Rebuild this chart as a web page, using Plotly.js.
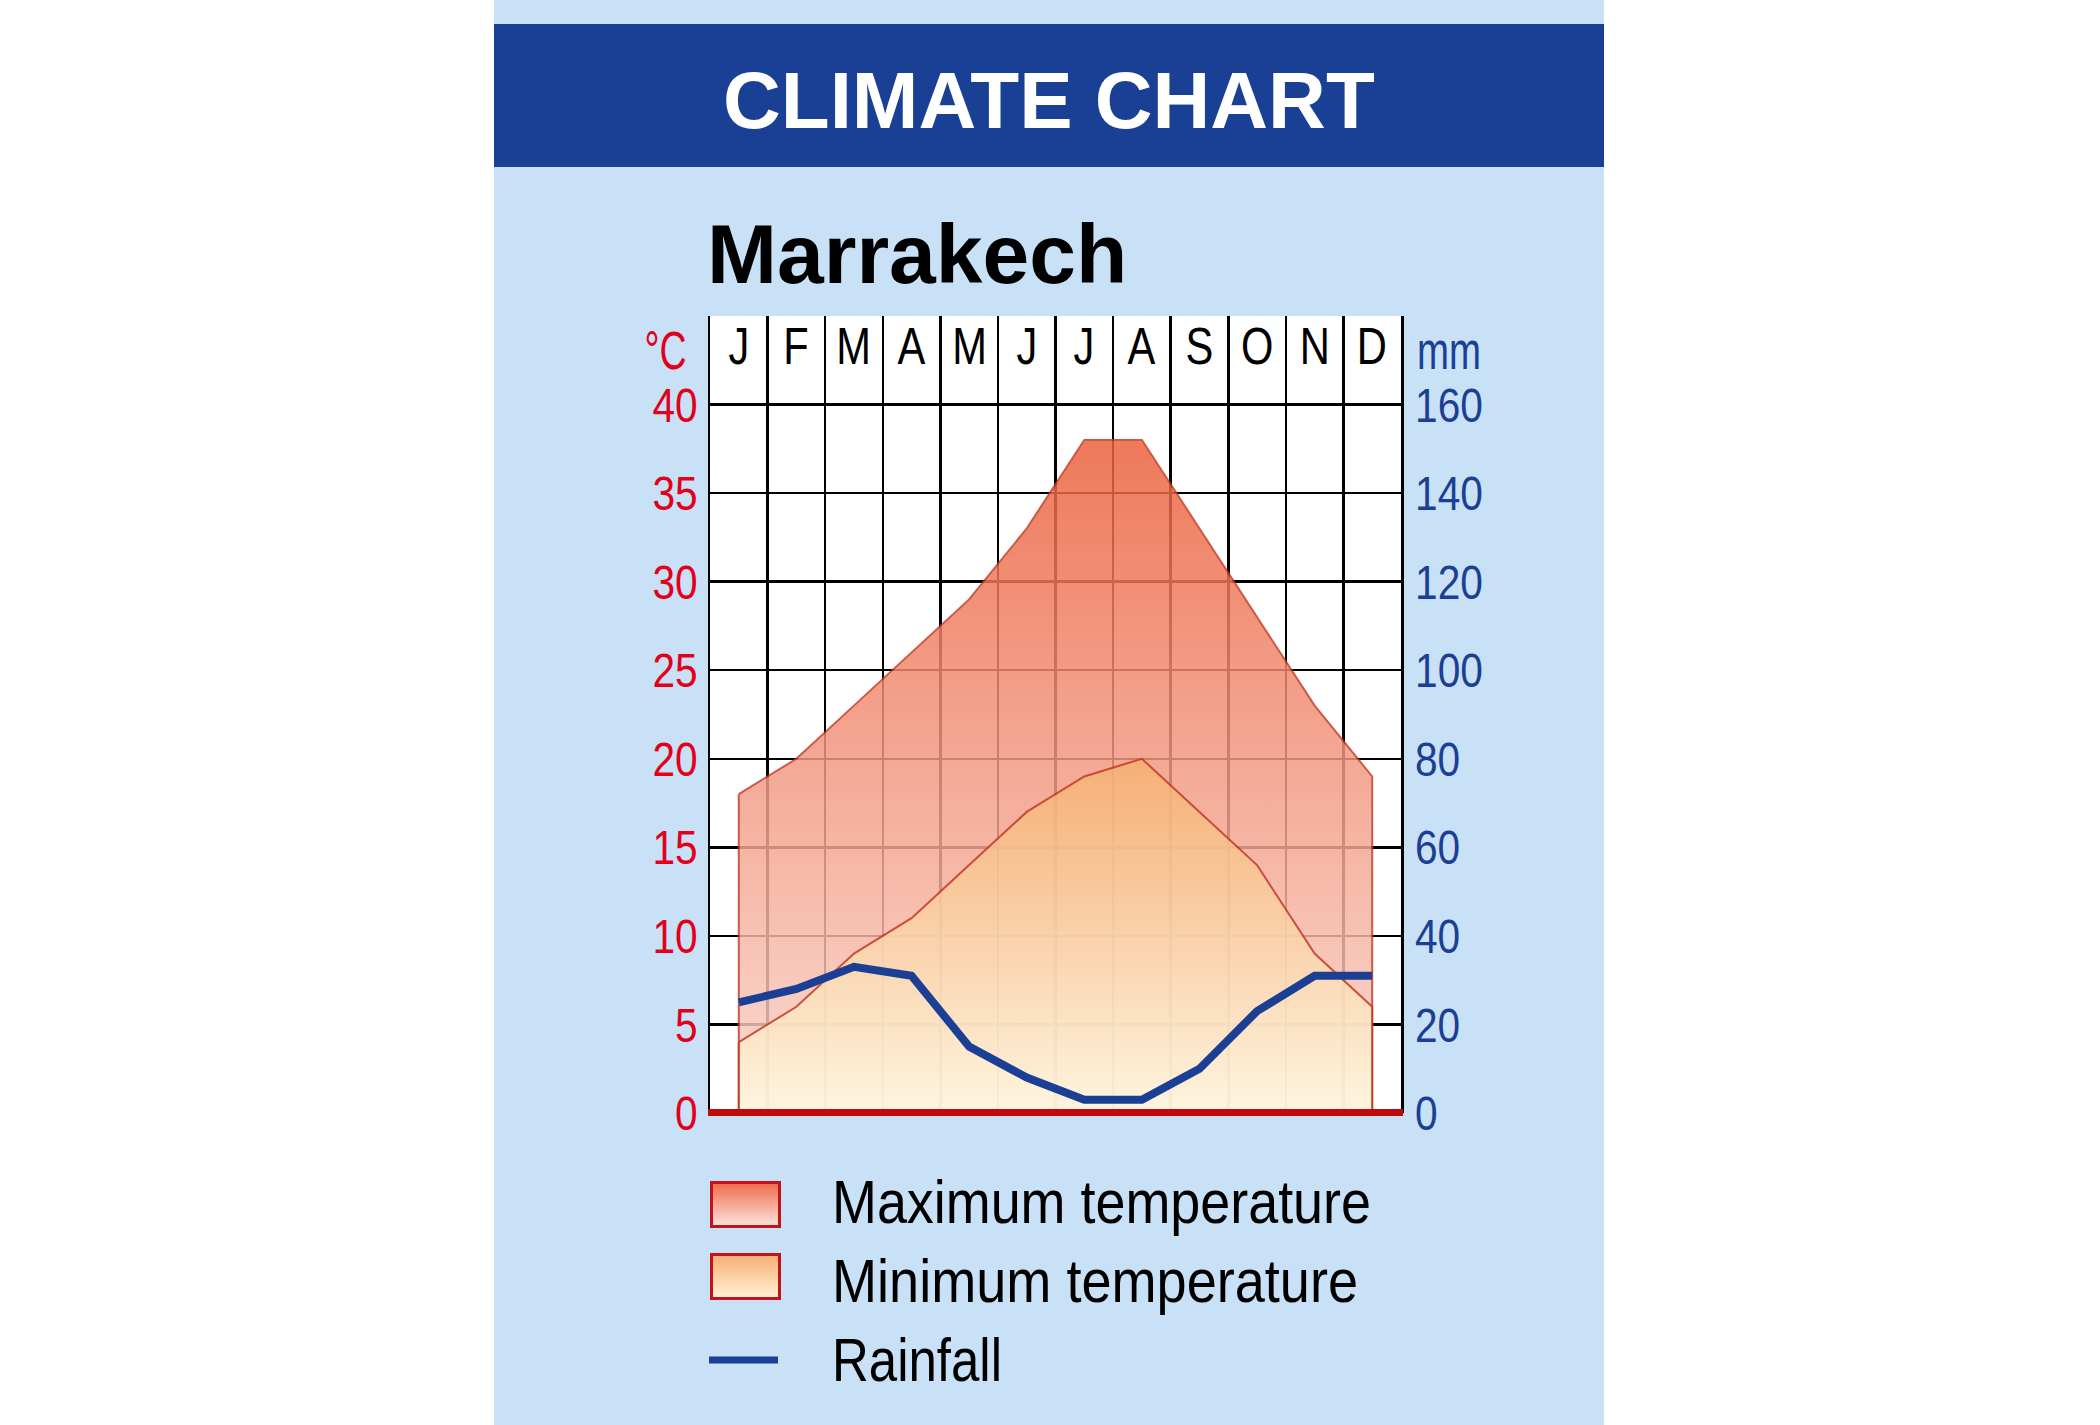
<!DOCTYPE html>
<html><head><meta charset="utf-8">
<script src="https://cdn.plot.ly/plotly-3.0.1.min.js"></script>
<style>html,body{margin:0;padding:0;background:#fff}#chart{width:2100px;height:1425px}</style>
</head><body><div id="chart"></div>
<script>
// ---- data ----
const months = ['Jan','Feb','Mar','Apr','May','Jun','Jul','Aug','Sep','Oct','Nov','Dec'];
const monthLetters = ['J','F','M','A','M','J','J','A','S','O','N','D'];
const tempMax = [18,20,23,26,29,33,38,38,33,28,23,19];
const tempMin = [4,6,9,11,14,17,19,20,17,14,9,6];
const rainfall = [25,28,33,31,15,8,3,3,10,23,31,31];
const tempTicks = [0,5,10,15,20,25,30,35,40];
const rainTicks = [0,20,40,60,80,100,120,140,160];
const legendLabels = ['Maximum temperature','Minimum temperature','Rainfall'];

// ---- layout geometry (pixels) ----
const W = 2100, H = 1425;
const L = 710, R = 1401, T = 316, B = 1113;
const PW = R - L, PH = B - T;
const px = x => (x - L) / PW;
const py = y => (B - y) / PH;

const SANS = "'Liberation Sans',Arial,Helvetica,sans-serif";
const RED = '#e2001a';
const BLUE = '#1b3f94';
const EDGE = '#c23a22';

function closeArea(vals){
  return {
    x: months.concat([months[months.length-1], months[0], months[0]]),
    y: vals.concat([0, 0, vals[0]])
  };
}
const maxA = closeArea(tempMax);
const minA = closeArea(tempMin);

const traces = [
  {
    type:'scatter', mode:'lines', x:maxA.x, y:maxA.y, fill:'toself',
    line:{color:EDGE, width:2}, opacity:0.84,
    fillgradient:{type:'vertical', colorscale:[[0,'rgb(250,214,204)'],[1,'rgb(236,96,60)']]},
    hoverinfo:'skip', showlegend:false
  },
  {
    type:'scatter', mode:'lines', x:minA.x, y:minA.y, fill:'toself',
    line:{color:EDGE, width:2}, opacity:0.84,
    fillgradient:{type:'vertical', colorscale:[[0,'rgb(255,250,226)'],[1,'rgb(246,176,112)']]},
    hoverinfo:'skip', showlegend:false
  },
  {
    type:'scatter', mode:'lines', x:months, y:rainfall, yaxis:'y2',
    line:{color:BLUE, width:8}, hoverinfo:'skip', showlegend:false
  }
];

function gradBox(top, bottom){
  const svg = '<svg xmlns="http://www.w3.org/2000/svg" width="71" height="47">'+
    '<defs><linearGradient id="g" x1="0" y1="0" x2="0" y2="1">'+
    '<stop offset="0" stop-color="'+top+'"/><stop offset="1" stop-color="'+bottom+'"/></linearGradient></defs>'+
    '<rect x="1.5" y="1.5" width="68" height="44" fill="url(#g)" stroke="#c3121c" stroke-width="3"/></svg>';
  return 'data:image/svg+xml;base64,' + btoa(svg);
}

const annotations = [];
const squeeze = []; // per annotation: {scale} or {width}
function addAnn(a, sq){ annotations.push(a); squeeze.push(sq || null); }

addAnn({xref:'paper', yref:'paper', x:px(1049), y:py(100), xanchor:'center', yanchor:'middle',
  text:'CLIMATE CHART', showarrow:false, font:{family:SANS, size:80, color:'#ffffff', weight:'bold'}});
addAnn({xref:'paper', yref:'paper', x:px(705), y:py(254), xanchor:'left', yanchor:'middle',
  text:'Marrakech', showarrow:false, font:{family:SANS, size:84, color:'#000000', weight:'bold'}});
monthLetters.forEach((m,i)=>{
  addAnn({xref:'x', yref:'y', x:months[i], y:43.3, xanchor:'center', yanchor:'middle',
    text:m, showarrow:false, font:{family:SANS, size:52, color:'#000'}}, {scale:0.8});
});
addAnn({xref:'paper', yref:'paper', x:px(689), y:py(350), xanchor:'right', yanchor:'middle',
  text:'°C', showarrow:false, font:{family:SANS, size:54, color:RED}}, {width:42});
addAnn({xref:'paper', yref:'paper', x:px(1415), y:py(350), xanchor:'left', yanchor:'middle',
  text:'mm', showarrow:false, font:{family:SANS, size:54, color:BLUE}}, {width:64});
const legY = [1202, 1281, 1360];
const legW = [539, 526, 170];
legendLabels.forEach((t,i)=>{
  addAnn({xref:'paper', yref:'paper', x:px(830), y:py(legY[i]), xanchor:'left', yanchor:'middle',
    text:t, showarrow:false, font:{family:SANS, size:61, color:'#000'}}, {width:legW[i]});
});

const shapes = [
  {type:'rect', xref:'paper', yref:'paper', x0:px(0), x1:px(494), y0:py(0), y1:py(H), fillcolor:'#ffffff', line:{width:0}, layer:'below'},
  {type:'rect', xref:'paper', yref:'paper', x0:px(1604), x1:px(W), y0:py(0), y1:py(H), fillcolor:'#ffffff', line:{width:0}, layer:'below'},
  {type:'rect', xref:'paper', yref:'paper', x0:px(494), x1:px(1604), y0:py(24), y1:py(167), fillcolor:'#1a4096', line:{width:0}, layer:'below'},
  // baseline (0 °C) – thick red rule
  {type:'line', xref:'paper', yref:'paper', x0:px(708), x1:px(1403), y0:py(1112.5), y1:py(1112.5), line:{color:'#c00a0a', width:7}, layer:'above'},
  // legend rainfall swatch
  {type:'line', xref:'paper', yref:'paper', x0:px(709), x1:px(778), y0:py(1360), y1:py(1360), line:{color:BLUE, width:7}}
];

const images = [
  {source:gradBox('#ee6a4a','#fde4dc'), xref:'paper', yref:'paper', x:px(710), y:py(1181), sizex:71/PW, sizey:47/PH,
   xanchor:'left', yanchor:'top', sizing:'stretch', layer:'above'},
  {source:gradBox('#f7ae72','#fff3d6'), xref:'paper', yref:'paper', x:px(710), y:py(1253), sizex:71/PW, sizey:47/PH,
   xanchor:'left', yanchor:'top', sizing:'stretch', layer:'above'}
];

const layout = {
  width:W, height:H,
  margin:{l:L, r:W-R, t:T, b:H-B, pad:0},
  paper_bgcolor:'#c9e1f6', plot_bgcolor:'#ffffff',
  showlegend:false,
  xaxis:{type:'category', categoryorder:'array', categoryarray:months, range:[-0.5,11.5],
    tickson:'boundaries', showgrid:true, gridcolor:'#000', gridwidth:2.5,
    showticklabels:false, ticks:'', showline:false, zeroline:false, fixedrange:true},
  yaxis:{range:[0,45], tickvals:tempTicks.concat([45]), ticktext:tempTicks.map(String).concat(['']),
    showgrid:true, gridcolor:'#000', gridwidth:2.5, zeroline:false,
    showline:true, linecolor:'#000', linewidth:2.5, mirror:true, ticks:'', ticklabelstandoff:0,
    tickfont:{family:SANS, size:49, color:RED}, fixedrange:true},
  yaxis2:{range:[0,180], overlaying:'y', side:'right', tickvals:rainTicks, ticktext:rainTicks.map(String),
    showgrid:false, zeroline:false, showline:false, ticks:'', ticklabelstandoff:13,
    tickfont:{family:SANS, size:49, color:BLUE}, fixedrange:true},
  annotations, shapes, images
};

// condense text horizontally (the original uses a condensed typeface)
function narrow(el, sq, anchor){
  const w = el.getComputedTextLength();
  if (!w) return;
  const target = sq.width ? sq.width : w * sq.scale;
  el.setAttribute('textLength', target.toFixed(1));
  el.setAttribute('lengthAdjust', 'spacingAndGlyphs');
  let dx = 0;
  if (anchor === 'left') dx = -(w - target) / 2;
  else if (anchor === 'right') dx = (w - target) / 2;
  if (dx) {
    const nodes = [el].concat(Array.from(el.querySelectorAll('tspan.line')));
    nodes.forEach(n => {
      const x = parseFloat(n.getAttribute('x'));
      if (!isNaN(x)) n.setAttribute('x', (x + dx).toFixed(1));
    });
  }
}

Plotly.newPlot('chart', traces, layout, {staticPlot:true, displayModeBar:false}).then(gd => {
  squeeze.forEach((sq, i) => {
    if (!sq) return;
    const el = gd.querySelector('.annotation[data-index="' + i + '"] text.annotation-text');
    if (el) narrow(el, sq, annotations[i].xanchor);
  });
  gd.querySelectorAll('.ytick text, .y2tick text').forEach(el => narrow(el, {scale:0.83}, null));
});
</script></body></html>
